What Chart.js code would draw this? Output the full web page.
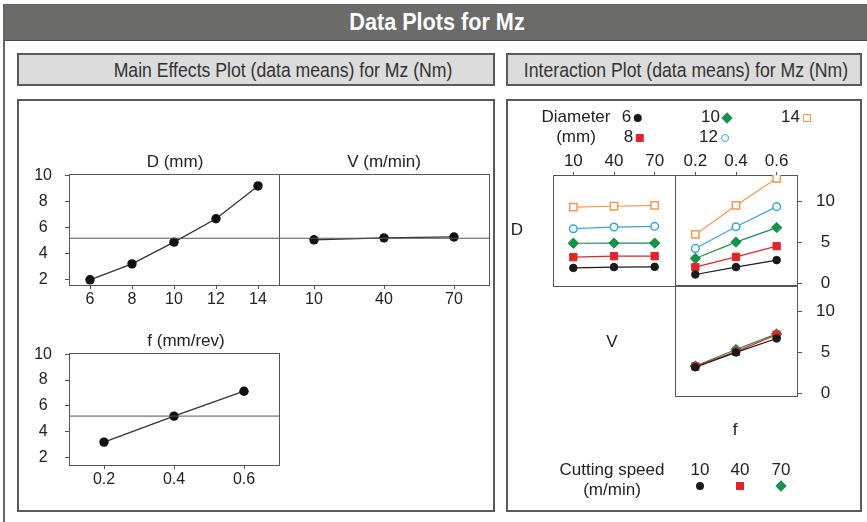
<!DOCTYPE html>
<html>
<head>
<meta charset="utf-8">
<script src="https://cdn.jsdelivr.net/npm/chart.js@4.4.1/dist/chart.umd.min.js"></script>
<style>
  body { margin: 0; width: 867px; height: 522px; position: relative; overflow: hidden; background: #fff;
         font-family: "Liberation Sans", Arial, sans-serif; color: #222; }
  .abs { position: absolute; box-sizing: border-box; }
  canvas { position: absolute; }
  .sq { position: absolute; top: 0; left: 50%; transform: translateX(-50%) scaleX(0.86); white-space: nowrap; }
  .hdr { background: #dcdcdc; border: 2px solid #5a5a5a; line-height: 29px; font-size: 20.5px; color: #333; }
  .box { border: 2px solid #5a5a5a; }
  .lbl { position: absolute; white-space: nowrap; font-size: 17px; line-height: 20px; transform: translate(-50%, -50%); }
  .mk { display: inline-block; width: 8px; height: 8px; box-sizing: border-box; vertical-align: middle; margin-left: 3px; }
</style>
</head>
<body>
<div class="abs" style="left:3px;top:4px;width:870px;height:530px;border-left:2px solid #666;border-top:2px solid #666"></div>
<div class="abs" style="left:5px;top:5px;width:862px;height:36px;background:#6b6b69;border-bottom:1px solid #444;color:#fff;font-weight:bold;font-size:23px;line-height:35px"><span class="sq" style="left:432px;transform:translateX(-50%) scaleX(0.94)">Data Plots for Mz</span></div>

<div class="abs hdr" style="left:17px;top:53px;width:478px;height:33px"><span class="sq" style="left:264px">Main Effects Plot (data means) for Mz (Nm)</span></div>
<div class="abs hdr" style="left:506px;top:53px;width:356px;height:33px"><span class="sq" style="left:178px">Interaction Plot (data means) for Mz (Nm)</span></div>
<div class="abs box" style="left:17px;top:99px;width:478px;height:413px"></div>
<div class="abs box" style="left:506px;top:99px;width:356px;height:413px"></div>

<script>
// main effects (data means)
const dLevels = [6, 8, 10, 12, 14];
const dMeans = [2.0, 3.23, 4.9, 6.7, 9.23];
const vLevels = [10, 40, 70];
const vMeans = [5.08, 5.23, 5.3];
const fLevels = [0.2, 0.4, 0.6];
const fMeans = [3.18, 5.2, 7.13];
const grandMean = 5.2;
const mainYTicks = [2, 4, 6, 8, 10];

// interaction means, one row per diameter / cutting speed
const diameters = [6, 8, 10, 12, 14];
const dvMeans = [
  [1.9, 2.0, 2.03],
  [3.2, 3.33, 3.33],
  [4.9, 4.92, 4.92],
  [6.67, 6.87, 6.95],
  [9.3, 9.4, 9.5]
];
const dfMeans = [
  [1.1, 2.0, 2.85],
  [2.0, 3.25, 4.55],
  [3.05, 5.04, 6.8],
  [4.27, 6.9, 9.35],
  [5.97, 9.5, 12.8]
];
const speeds = [10, 40, 70];
const fvMeans = [
  [3.2, 5.0, 6.7],
  [3.3, 5.1, 7.15],
  [3.35, 5.35, 7.25]
];
const interYTicks = [0, 5, 10];

// looks
const dColors = ["#1a1a1a", "#e2252b", "#16924a", "#37a6de", "#f3974a"];
const dShapes = ["circle", "rect", "rectRot", "circle", "rect"];
const dHollow = [false, false, false, true, true];
const FONT = "'Liberation Sans', Arial, sans-serif";

// draws the frame round each plot area
const boxPlugin = {
  id: "box",
  beforeDatasetsDraw(chart) {
    const a = chart.chartArea;
    const ctx = chart.ctx;
    ctx.save();
    ctx.strokeStyle = "#555";
    ctx.lineWidth = 1;
    ctx.strokeRect(Math.round(a.left) + 0.5, Math.round(a.top) + 0.5, Math.round(a.right - a.left), Math.round(a.bottom - a.top));
    ctx.restore();
  }
};

function axis(pos, min, max, ticks, size, tl, pad, fontSize) {
  const horiz = pos === "top" || pos === "bottom";
  return {
    type: "linear",
    position: pos,
    min: min,
    max: max,
    display: ticks.length > 0,
    afterBuildTicks: s => { s.ticks = ticks.map(v => ({ value: v })); },
    afterFit: s => { if (horiz) s.height = size; else s.width = size; },
    grid: { display: true, drawOnChartArea: false, drawTicks: true, tickLength: tl, color: "#555" },
    border: { display: false },
    ticks: {
      padding: pad, color: "#222", autoSkip: false, maxRotation: 0,
      crossAlign: horiz ? "near" : "center",
      font: { family: FONT, size: fontSize },
      callback: v => String(v)
    },
    __size: size
  };
}

// rect = plot area in page pixels
function panel(rect, xScale, yScale, datasets) {
  const M = 45;
  const el = document.createElement("canvas");
  el.width = rect.w + 2 * M;
  el.height = rect.h + 2 * M;
  el.style.left = (rect.x - M) + "px";
  el.style.top = (rect.y - M) + "px";
  document.body.appendChild(el);
  const pad = { left: M, right: M, top: M, bottom: M };
  [xScale, yScale].forEach(s => {
    if (s.display) pad[s.position] -= s.__size;
    delete s.__size;
  });
  return new Chart(el, {
    type: "line",
    data: { datasets: datasets },
    options: {
      responsive: false,
      animation: false,
      events: [],
      layout: { padding: pad },
      plugins: { legend: { display: false }, tooltip: { enabled: false } },
      scales: { x: xScale, y: yScale }
    },
    plugins: [boxPlugin]
  });
}

function pts(xs, ys) { return xs.map((x, i) => ({ x: x, y: ys[i] })); }

function mainLine(xs, ys) {
  return {
    data: pts(xs, ys), borderColor: "#333", borderWidth: 1.3,
    pointRadius: 4.7, pointBackgroundColor: "#111", pointBorderColor: "#111", pointBorderWidth: 0
  };
}

function meanLine(x0, x1) {
  return { data: [{ x: x0, y: grandMean }, { x: x1, y: grandMean }], borderColor: "#555", borderWidth: 1, pointRadius: 0 };
}

// ---- main effects ----
panel({ x: 69, y: 174, w: 210, h: 111 },
  axis("bottom", 5, 15, dLevels, 30, 4, 1, 16),
  axis("left", 1.6, 10.15, mainYTicks, 40, 4, 13, 16),
  [meanLine(5, 15), mainLine(dLevels, dMeans)]);

panel({ x: 279, y: 174, w: 210, h: 111 },
  axis("bottom", -5, 85, vLevels, 30, 4, 1, 16),
  axis("left", 1.6, 10.15, [], 0, 0, 0, 16),
  [meanLine(-5, 85), mainLine(vLevels, vMeans)]);

panel({ x: 69, y: 353, w: 210, h: 112 },
  axis("bottom", 0.1, 0.7, fLevels, 30, 4, 1, 16),
  axis("left", 1.4, 10.1, mainYTicks, 40, 4, 13, 16),
  [meanLine(0.1, 0.7), mainLine(fLevels, fMeans)]);

// ---- interaction ----
function interSet(xs, ys, i) {
  return {
    data: pts(xs, ys), borderColor: dColors[i], borderWidth: 1.2,
    pointStyle: dShapes[i],
    pointRadius: dShapes[i] === "circle" ? 3.8 : 5.2,
    pointBackgroundColor: dHollow[i] ? "#fff" : dColors[i],
    pointBorderColor: dColors[i], pointBorderWidth: dHollow[i] ? 1.5 : 1
  };
}

panel({ x: 553, y: 175, w: 122, h: 111 },
  axis("top", -5, 85, speeds, 25, 3, 0, 17),
  axis("left", -0.3, 13.2, [], 0, 0, 0, 17),
  diameters.map((d, i) => interSet(speeds, dvMeans[i], i)));

panel({ x: 675, y: 175, w: 122, h: 111 },
  axis("top", 0.1, 0.7, fLevels, 25, 3, 0, 17),
  axis("right", -0.3, 13.2, interYTicks, 45, 5, 14, 17),
  diameters.map((d, i) => interSet(fLevels, dfMeans[i], i)));

const speedIdx = [0, 1, 2];
panel({ x: 675, y: 285, w: 122, h: 111 },
  axis("bottom", 0.1, 0.7, [], 0, 0, 0, 17),
  axis("right", -0.3, 13.2, interYTicks, 45, 5, 14, 17),
  speeds.map((s, i) => interSet(fLevels, fvMeans[i], speedIdx[i])));

// ---- text labels and legends ----
function label(text, cx, cy, extra) {
  const el = document.createElement("div");
  el.className = "lbl";
  el.style.left = cx + "px";
  el.style.top = cy + "px";
  el.innerHTML = text;
  if (extra) el.style.cssText += extra;
  document.body.appendChild(el);
}

function mark(i, gap) {
  const c = dColors[i];
  let css = dHollow[i] ? "border:1.5px solid " + c + ";background:#fff;" : "background:" + c + ";";
  if (dShapes[i] === "circle") css += "border-radius:50%;";
  if (dShapes[i] === "rectRot") css += "transform:rotate(45deg);";
  css += "margin-left:" + gap + "px;";
  return '<span class="mk" style="' + css + '"></span>';
}

label("D (mm)", 175, 162);
label("V (m/min)", 384, 162);
label("f (mm/rev)", 186, 341);

label("Diameter", 576, 117);
label("(mm)", 576, 137);
label("6" + mark(0, 3), 632, 117);
label("8" + mark(1, 3), 634, 137);
label("10" + mark(2, 3), 716, 117);
label("12" + mark(3, 3), 714, 137);
label("14" + mark(4, 3), 796, 117);

label("D", 517, 230);
label("V", 612, 342);
label("f", 735, 430);

label("Cutting speed", 612, 470);
label("(m/min)", 612, 490);
speeds.forEach((s, i) => {
  const cx = [700, 740, 781][i];
  label(String(s), cx, 470);
  label(mark(speedIdx[i], 0), cx, 485, "line-height:10px;");
});
</script>
</body>
</html>
